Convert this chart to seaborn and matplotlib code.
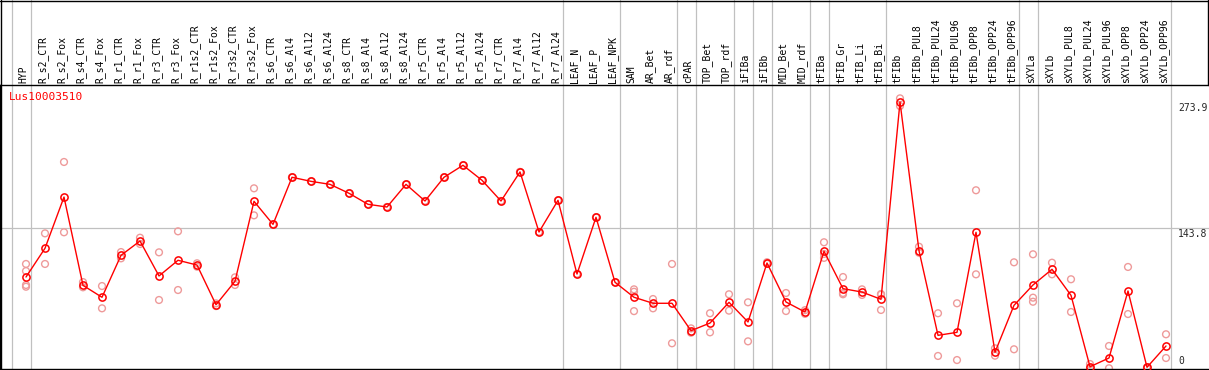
import numpy as np
import pandas as pd
import matplotlib
matplotlib.use("Agg")
import matplotlib.pyplot as plt
from matplotlib.lines import Line2D
import seaborn as sns

categories = ["HYP", "R_s2_CTR", "R_s2_Fox", "R_s4_CTR", "R_s4_Fox", "R_r1_CTR", "R_r1_Fox",
              "R_r3_CTR", "R_r3_Fox", "R_r1s2_CTR", "R_r1s2_Fox", "R_r3s2_CTR", "R_r3s2_Fox",
              "R_s6_CTR", "R_s6_Al4", "R_s6_Al12", "R_s6_Al24", "R_s8_CTR", "R_s8_Al4",
              "R_s8_Al12", "R_s8_Al24", "R_r5_CTR", "R_r5_Al4", "R_r5_Al12", "R_r5_Al24",
              "R_r7_CTR", "R_r7_Al4", "R_r7_Al12", "R_r7_Al24", "LEAF_N", "LEAF_P", "LEAF_NPK",
              "SAM", "AR_Bet", "AR_rdf", "cPAR", "TOP_Bet", "TOP_rdf", "iFIBa", "iFIBb",
              "MID_Bet", "MID_rdf", "tFIBa", "tFIB_Gr", "tFIB_Li", "tFIB_Bi", "tFIBb",
              "tFIBb_PUL8", "tFIBb_PUL24", "tFIBb_PUL96", "tFIBb_OPP8", "tFIBb_OPP24",
              "tFIBb_OPP96", "sXYLa", "sXYLb", "sXYLb_PUL8", "sXYLb_PUL24", "sXYLb_PUL96",
              "sXYLb_OPP8", "sXYLb_OPP24", "sXYLb_OPP96"]

means = [93.2, 122.9, 175.8, 84.6, 72.3, 115.6, 130.4, 94.3, 110.5, 105.6, 64.6, 88.8, 171.4,
         147.6, 196.2, 192.0, 188.9, 179.7, 168.3, 165.5, 188.9, 171.7, 196.2, 208.6, 193.1,
         171.7, 201.7, 139.7, 172.4, 96.3, 154.9, 87.8,
         72.3, 66.1, 66.1, 37.8, 45.7, 67.1, 46.8, 107.7, 67.4, 57.1, 119.8, 81.2, 77.7, 70.2,
         273.9, 120.4, 33.0, 36.1, 139.4, 15.5, 64.0, 85.0, 101.2, 74.3, 0.6, 9.6, 78.8, 0.0, 22.0]

rep1 = [106.7, 138.3, 212.0, 88.0, 83.9, 119.0, 133.8, 118.7, 140.4, 107.4, 66.0, 92.9, 184.8,
        147.6, 196.2, 192.0, 188.9, 179.7, 168.3, 165.5, 188.9, 171.7, 196.2, 208.6, 193.1,
        171.7, 201.7, 139.7, 172.4, 96.3, 154.9, 87.8,
        80.5, 70.5, 106.7, 40.2, 55.8, 75.4, 67.1, 108.5, 76.7, 59.0, 129.1, 93.2, 80.5, 75.7,
        277.7, 124.5, 55.8, 66.1, 182.8, 19.6, 108.4, 116.7, 108.0, 90.9, 3.4, 22.0, 103.6, 0.0, 34.1]
rep2 = [99.4, 106.7, 139.4, 82.6, 60.9, 112.5, 127.3, 69.5, 79.8, 103.9, 63.2, 85.0, 156.9,
        147.6, 196.2, 192.0, 188.9, 179.7, 168.3, 165.5, 188.9, 171.7, 196.2, 208.6, 193.1,
        171.7, 201.7, 139.7, 172.4, 96.3, 154.9, 87.8,
        78.0, 60.9, 24.8, 35.7, 36.1, 58.5, 26.8, 106.9, 58.1, 55.2, 117.0, 75.4, 74.7, 75.0,
        269.8, 118.3, 11.7, 7.5, 96.0, 12.0, 18.6, 71.9, 96.0, 57.1, -1.0, -1.0, 55.0, -1.0, 9.6]
rep3 = [85.0, np.nan, np.nan, np.nan, np.nan, np.nan, np.nan, np.nan, np.nan, np.nan, np.nan,
        np.nan, np.nan, np.nan, np.nan, np.nan, np.nan, np.nan, np.nan, np.nan, np.nan, np.nan,
        np.nan, np.nan, np.nan, np.nan, np.nan, np.nan, np.nan, np.nan, np.nan, np.nan,
        58.0, np.nan, np.nan, np.nan, np.nan, np.nan, np.nan, np.nan, np.nan, np.nan, 113.0,
        76.7, np.nan, 59.2, np.nan, np.nan, np.nan, np.nan, np.nan, np.nan, np.nan, 67.7,
        np.nan, np.nan, np.nan, np.nan, np.nan, np.nan, np.nan]
rep4 = [83.2] + [np.nan] * 60

gene_name = "Lus10003510"
ytick_values = [273.9, 143.8, 0]
ytick_labels = ["273.9", "143.8", "0"]
group_end_idx = [-1, 0, 28, 31, 34, 35, 37, 38, 39, 41, 42, 45, 52, 53, 60]

idx = np.arange(len(categories))
df_mean = pd.DataFrame({"x": idx, "y": means})
reps = []
for r in (rep1, rep2, rep3, rep4):
    reps.append(pd.DataFrame({"x": idx, "y": r}))
df_rep = pd.concat(reps).dropna()

sns.set_style("white")
plt.rcParams["font.family"] = ["DejaVu Sans Mono"]

W, H = 1209, 370
fig = plt.figure(figsize=(W / 100, H / 100), dpi=100)
top_px, bot_px = 85, 369
ax = fig.add_axes([0, 1 - bot_px / H, 1, (bot_px - top_px) / H])

# pixel mapping
x0_px, dx_px = 26, 19
ax.set_xlim(-x0_px / dx_px, (W - x0_px) / dx_px)
y0_px, ky = 367.3, 0.9685
ax.set_ylim((y0_px - bot_px) / ky, (y0_px - top_px) / ky)

grey = "#c0c0c0"
ext = 1 + top_px / (bot_px - top_px)
for g in group_end_idx:
    ax.axvline(g + 0.24, ymin=0, ymax=ext, color=grey, lw=0.9, clip_on=False, zorder=1)
ax.axhline(143.8, color=grey, lw=0.9, zorder=1)

sns.scatterplot(data=df_rep, x="x", y="y", ax=ax, marker="o", s=24,
                facecolors="none", edgecolor="#ee9a9a", linewidth=1.0, zorder=2, legend=False)
sns.lineplot(data=df_mean, x="x", y="y", ax=ax, color="#ff0000", lw=1.0, marker="o",
             markersize=5.2, zorder=3, legend=False)
for ln in ax.lines:
    if ln.get_marker() == "o":
        ln.set_markerfacecolor("none")
        ln.set_markeredgecolor("#ff0000")
        ln.set_markeredgewidth(1.1)

ax.set_xticks([])
ax.set_yticks([])
ax.set_xlabel("")
ax.set_ylabel("")
for s in ("left", "bottom", "top"):
    ax.spines[s].set_visible(True)
    ax.spines[s].set_color("black")
    ax.spines[s].set_linewidth(1.0)
ax.spines["right"].set_visible(False)

trans = matplotlib.transforms.blended_transform_factory(ax.transData, ax.transAxes)
for i, c in enumerate(categories):
    ax.text(i - 0.13, 1 + 2 / (bot_px - top_px), c, rotation=90, ha="center", va="bottom",
            fontsize=7, color="black", transform=trans, clip_on=False)

# y labels on right
for v, lab in zip(ytick_values, ytick_labels):
    if v == 0:
        ax.text(1178 / W, 1 - 366 / H, lab, transform=fig.transFigure, fontsize=7,
                ha="left", va="bottom")
    else:
        ypx = y0_px - ky * v + 1
        ax.text(1178 / W, 1 - ypx / H, lab, transform=fig.transFigure, fontsize=7,
                ha="left", va="top")

fig.text(9 / W, 1 - 97.3 / H, gene_name, color="#ff0000", fontsize=8, ha="left", va="center")

fig.add_artist(Line2D([0, 1], [1 - 0.5 / H, 1 - 0.5 / H], color="black", lw=1.0,
                      transform=fig.transFigure))
fig.add_artist(Line2D([0.5 / W, 0.5 / W], [0, 1], color="black", lw=1.0,
                      transform=fig.transFigure))
fig.add_artist(Line2D([1 - 1.5 / W, 1 - 1.5 / W], [1 - top_px / H, 1], color="black", lw=1.0,
                      transform=fig.transFigure))

fig.savefig("out.png", dpi=100)
